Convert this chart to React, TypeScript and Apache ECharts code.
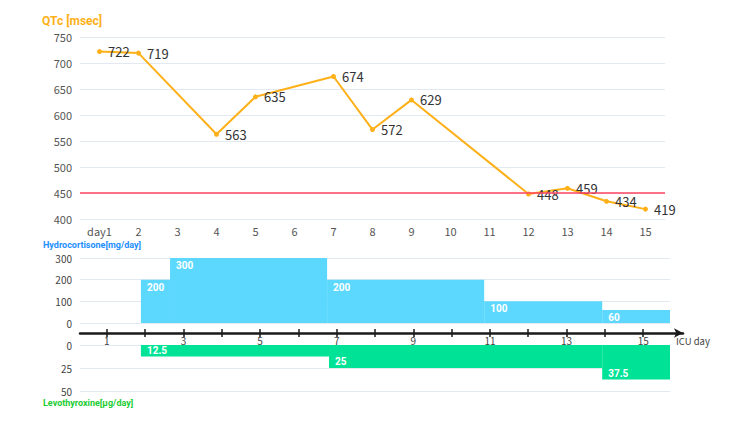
import React, { useEffect, useRef } from "react";
import * as echarts from "echarts";

const days = ["day1", "2", "3", "4", "5", "6", "7", "8", "9", "10", "11", "12", "13", "14", "15"];
const qtc = [722, 719, null, 563, 635, null, 674, 572, 629, null, null, 448, 459, 434, 419];
const qtcLimit = 450;
// [startDay, endDay, dose]
const hydrocortisone = [
  [1.89, 2.65, 200],
  [2.65, 6.75, 300],
  [6.75, 10.85, 200],
  [10.85, 13.93, 100],
  [13.93, 15.7, 60],
];
const levothyroxine = [
  [1.89, 6.8, 12.5],
  [6.8, 13.93, 25],
  [13.93, 15.7, 37.5],
];
const icuTicks = [1, 2, 3, 4, 5, 6, 7, 8, 9, 10, 11, 12, 13, 14, 15];
const icuLabels = [1, 3, 5, 7, 9, 11, 13, 15];

const FONT = "'Noto Sans CJK JP', 'Noto Sans', sans-serif";
const TFONT = "Roboto, 'Noto Sans CJK JP', sans-serif";

function barSeries(data: number[][], color: string, xi: number, yi: number, inverse: boolean) {
  return {
    type: "custom",
    xAxisIndex: xi,
    yAxisIndex: yi,
    data,
    silent: true,
    renderItem: (params: any, api: any) => {
      const s = api.value(0), e = api.value(1), v = api.value(2);
      const p0 = api.coord([s, 0]);
      const p1 = api.coord([e, v]);
      const x = Math.min(p0[0], p1[0]);
      const y = Math.min(p0[1], p1[1]);
      const w = Math.abs(p1[0] - p0[0]);
      const h = Math.abs(p1[1] - p0[1]);
      return {
        type: "group",
        children: [
          { type: "rect", shape: { x, y, width: w, height: h }, style: { fill: color } },
          {
            type: "text",
            x: x + 6,
            y: inverse ? p1[1] - 6.5 : p1[1] + 7.5,
            style: {
              text: String(v),
              fill: "#fff",
              fontSize: 10,
              fontWeight: "bold",
              fontFamily: TFONT,
              verticalAlign: "middle",
              align: "left",
            },
          },
        ],
      };
    },
  };
}

export default function App() {
  const ref = useRef<HTMLDivElement>(null);
  useEffect(() => {
    document.body.style.margin = "0";
    const chart = echarts.init(ref.current!, null, { renderer: "svg" });
    const splitLine = { show: true, lineStyle: { color: "#E3E9F2", width: 1 } };
    const hideLine = { show: false };
    const xMin = 0.3, xMax = 15.7;
    const arrowMax = 0.3 + 603 / (590 / 15.4);
    chart.setOption({
      animation: false,
      textStyle: { fontFamily: FONT },
      title: [
        { text: "QTc [msec]", left: 37, top: 10, textStyle: { fontSize: 12, fontWeight: "bold", color: "#FEB019", fontFamily: TFONT } },
        { text: "Hydrocortisone[mg/day]", left: 38, top: 235, textStyle: { fontSize: 9, fontWeight: "bold", color: "#1E8FFF", fontFamily: TFONT } },
        { text: "Levothyroxine[μg/day]", left: 38, top: 393, textStyle: { fontSize: 9, fontWeight: "bold", color: "#22CC33", fontFamily: TFONT } },
      ],
      grid: [
        { left: 80, width: 585, top: 37, height: 182 },
        { left: 80, width: 590, top: 258, height: 65 },
        { left: 80, width: 603, top: 332, height: 1 },
        { left: 80, width: 590, top: 345, height: 46 },
      ],
      xAxis: [
        {
          gridIndex: 0,
          type: "category",
          data: days,
          boundaryGap: true,
          axisLine: hideLine,
          axisTick: hideLine,
          axisLabel: { fontSize: 11, color: "#555", margin: 6 },
        },
        { gridIndex: 1, type: "value", min: xMin, max: xMax, show: false },
        {
          gridIndex: 2,
          type: "value",
          min: xMin,
          max: arrowMax,
          name: "ICU day",
          nameLocation: "end",
          nameGap: -7,
          nameTextStyle: { fontSize: 9.5, color: "#444", align: "left", verticalAlign: "top", padding: [3, 0, 0, 0] },
          axisLine: { show: true, symbol: ["none", "arrow"], symbolSize: [7, 9], lineStyle: { color: "#1a1a1a", width: 2.5 } },
          axisTick: { show: true, customValues: icuTicks, length: 4, lineStyle: { color: "#1a1a1a", width: 1.5 } },
          axisLabel: { show: true, customValues: icuLabels, fontSize: 10, color: "#444", margin: 2 },
          splitLine: { show: false },
        },
        {
          gridIndex: 2,
          type: "value",
          min: xMin,
          max: arrowMax,
          position: "bottom",
          axisLine: hideLine,
          axisTick: { show: true, inside: true, customValues: icuTicks, length: 4, lineStyle: { color: "#1a1a1a", width: 1.5 } },
          axisLabel: { show: false },
          splitLine: { show: false },
        },
        { gridIndex: 3, type: "value", min: xMin, max: xMax, show: false },
      ],
      yAxis: [
        {
          gridIndex: 0,
          type: "value",
          min: 400,
          max: 750,
          interval: 50,
          axisLine: hideLine,
          axisTick: hideLine,
          axisLabel: { fontSize: 11, color: "#555", margin: 8 },
          splitLine,
        },
        {
          gridIndex: 1,
          type: "value",
          min: 0,
          max: 300,
          interval: 100,
          axisLine: hideLine,
          axisTick: hideLine,
          axisLabel: { fontSize: 10, color: "#444", margin: 8 },
          splitLine,
        },
        { gridIndex: 2, type: "value", show: false, min: 0, max: 1 },
        {
          gridIndex: 3,
          type: "value",
          inverse: true,
          min: 0,
          max: 50,
          interval: 25,
          axisLine: hideLine,
          axisTick: hideLine,
          axisLabel: { fontSize: 10, color: "#444", margin: 8 },
          splitLine,
        },
      ],
      series: [
        {
          type: "line",
          xAxisIndex: 0,
          yAxisIndex: 0,
          data: qtc,
          connectNulls: true,
          color: "#FEB019",
          lineStyle: { width: 2, color: "#FEB019" },
          symbol: "circle",
          symbolSize: 5,
          label: { show: true, position: "right", fontSize: 13, color: "#333", distance: 6 },
          markLine: {
            silent: true,
            symbol: ["none", "none"],
            label: { show: false },
            lineStyle: { color: "#FF4560", width: 1.5, type: "solid" },
            data: [{ yAxis: qtcLimit }],
          },
          z: 3,
        },
        barSeries(hydrocortisone, "#5CD8FF", 1, 1, false),
        barSeries(levothyroxine, "#00E396", 4, 3, true),
      ],
    });
    return () => chart.dispose();
  }, []);
  return <div ref={ref} style={{ width: 750, height: 422 }} />;
}
